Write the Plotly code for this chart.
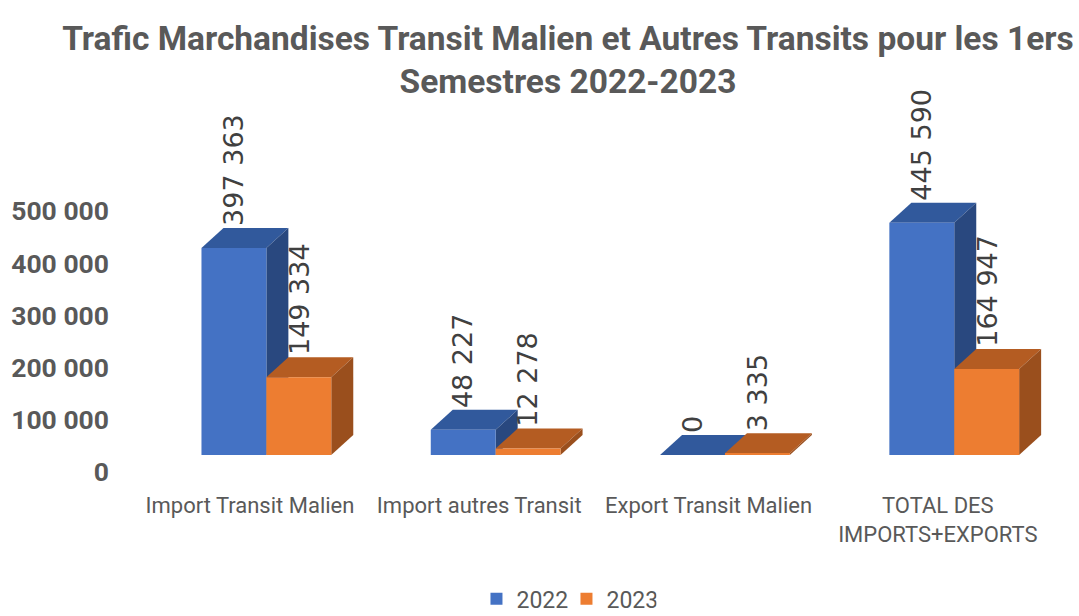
import plotly.graph_objects as go

# ---------------- data ----------------
categories = ["Import Transit Malien", "Import autres Transit",
              "Export Transit Malien", "TOTAL DES<br>IMPORTS+EXPORTS"]
series_names = ["2022", "2023"]
values_2022 = [397363, 48227, 0, 445590]
values_2023 = [149334, 12278, 3335, 164947]
ytick_values = [0, 100000, 200000, 300000, 400000, 500000]
ytick_labels = ["0", "100 000", "200 000", "300 000", "400 000", "500 000"]

# ---------------- style / geometry ----------------
FONT = "Roboto, Liberation Sans, sans-serif"
LABEL_FONT = "DejaVu Sans, sans-serif"
GRAY = "#595959"
front_colors = ["#4472C4", "#ED7D31"]
top_colors = ["#31599C", "#B45C22"]
side_colors = ["#29487F", "#9A4F1D"]
BAR_W = 0.283
OFFSETS = [-0.07, 0.213]
DX = 0.096        # 3D depth along x (category units)
DY = 38400        # 3D depth along y (value units)
TICK_SHIFT = -32000

series = [values_2022, values_2023]
xpos = list(range(len(categories)))

fig = go.Figure()
shapes = []
annotations = []

def fmt(v):
    return f"{v:,}".replace(",", " ")

for s, (name, vals) in enumerate(zip(series_names, series)):
    xs = [i + OFFSETS[s] for i in xpos]
    fig.add_trace(go.Bar(
        x=xs, y=vals, width=BAR_W, name=name,
        marker=dict(color=front_colors[s], line=dict(width=0)),
        hoverinfo="x+y",
    ))
    for xc, v in zip(xs, vals):
        x0, x1 = xc - BAR_W / 2, xc + BAR_W / 2
        # top face
        shapes.append(dict(
            type="path", xref="x", yref="y", layer="below",
            path=f"M {x0} {v} L {x1} {v} L {x1+DX} {v+DY} L {x0+DX} {v+DY} Z",
            fillcolor=top_colors[s], line=dict(width=0)))
        # side face
        shapes.append(dict(
            type="path", xref="x", yref="y", layer="below",
            path=f"M {x1} 0 L {x1} {v} L {x1+DX} {v+DY} L {x1+DX} {DY} Z",
            fillcolor=side_colors[s], line=dict(width=0)))
        annotations.append(dict(
            x=xc, y=v + DY, xref="x", yref="y", text=fmt(v),
            textangle=-90, showarrow=False, xanchor="center", yanchor="bottom",
            font=dict(family=LABEL_FONT, size=27, color="#404040")))

fig.update_layout(
    width=1079, height=616,
    paper_bgcolor="white", plot_bgcolor="white",
    margin=dict(l=114, r=10, t=100, b=126, autoexpand=False),
    barmode="overlay",
    shapes=shapes,
    annotations=annotations,
    title=dict(
        text="Trafic Marchandises Transit Malien et Autres Transits pour les 1ers<br>Semestres 2022-2023",
        x=0.5264, xanchor="center", xref="container",
        y=0.919, yanchor="top", yref="container",
        font=dict(family=FONT, size=33.5, color=GRAY, weight="bold")),
    xaxis=dict(
        range=[-0.593, 3.572], tickvals=xpos, ticktext=categories,
        showgrid=False, zeroline=False, showline=False, ticks="",
        tickangle=0, automargin=False,
        tickfont=dict(family=FONT, size=22, color=GRAY)),
    yaxis=dict(
        range=[-67178, 681382],
        tickvals=[t + TICK_SHIFT for t in ytick_values], ticktext=ytick_labels,
        showgrid=False, zeroline=False, showline=False, ticks="",
        automargin=False, ticklabelstandoff=4,
        tickfont=dict(family=FONT, size=26.5, color=GRAY, weight="bold")),
    legend=dict(
        orientation="h", xref="container", yref="container",
        x=0.525, xanchor="center", y=0.028, yanchor="middle",
        itemwidth=30, entrywidth=45, entrywidthmode="pixels",
        font=dict(family=FONT, size=23, color=GRAY)),
    showlegend=True,
)

fig.write_html("out.html", config={"displayModeBar": False},
               post_script="document.body.style.margin='0px';")
